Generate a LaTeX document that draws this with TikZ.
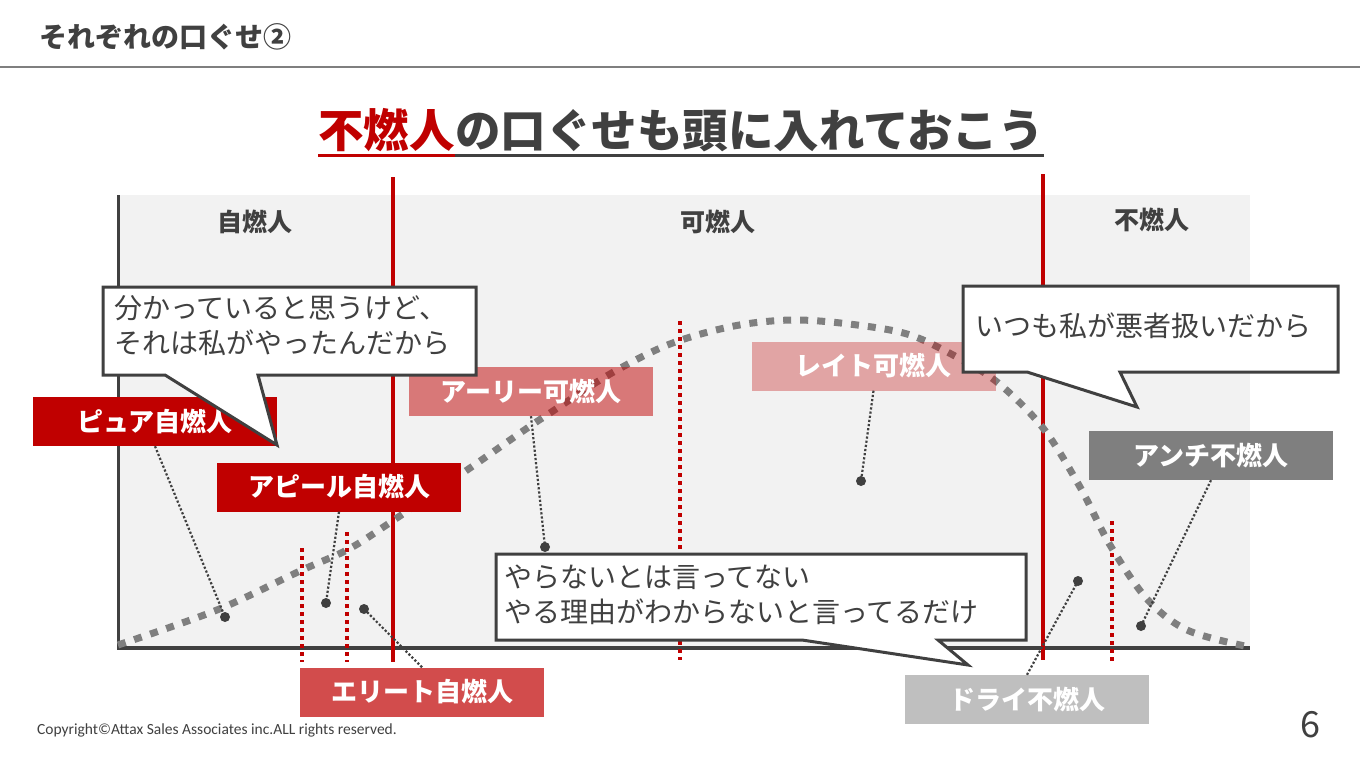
\documentclass[tikz,border=0pt]{standalone}
\usepackage{fontspec}
\setmainfont{Noto Sans CJK JP}
\newfontfamily\cali{Carlito}
\definecolor{dk}{HTML}{404040}
\definecolor{rd}{HTML}{C00000}
\definecolor{bgc}{HTML}{F2F2F2}
\definecolor{cg}{HTML}{7F7F7F}
\definecolor{lg}{HTML}{BFBFBF}
\begin{document}
\begin{tikzpicture}[x=1pt,y=-1pt,
  lbl/.style={minimum width=244pt, minimum height=49pt, inner sep=0pt, text=white, text opacity=1,
    font=\fontsize{26}{30}\selectfont\bfseries},
  reg/.style={text=dk, inner sep=0pt, font=\fontsize{25}{28}\selectfont\bfseries},
  dotn/.style={circle, fill=dk, inner sep=0pt, minimum size=10pt},
  conn/.style={dk, line width=2.2pt, dash pattern=on 2.2pt off 2pt},
  bubble/.style={fill=white, draw=dk, line width=3pt, line join=miter},
  btext/.style={text=dk, align=left, inner sep=0pt, font=\fontsize{28}{35}\selectfont},
  redsolid/.style={rd, line width=4pt},
  reddot/.style={rd, line width=4pt, dash pattern=on 4pt off 4pt},
  curvestyle/.style={cg, line width=7pt, dash pattern=on 8pt off 9pt}]
\useasboundingbox (0,0) rectangle (1360,766);
\fill[white] (0,0) rectangle (1360,766);
% header
\node[anchor=west, text=dk, inner sep=0pt, font=\fontsize{28}{30}\selectfont\bfseries] (hdr) at (39,37) {それぞれの口ぐせ②};
\draw[cg, line width=2pt] (0,67) -- (1360,67);
% title
\node[anchor=base west, inner sep=0pt, text=rd, font=\fontsize{45.5}{50}\selectfont\bfseries] (t1) at (318,147) {不燃人};
\node[anchor=base west, inner sep=0pt, text=dk, font=\fontsize{45.5}{50}\selectfont\bfseries] (t2) at (t1.base east) {の口ぐせも頭に入れておこう};
\draw[rd, line width=3pt] ([yshift=-8pt]t1.base west) -- ([yshift=-8pt]t1.base east);
\draw[dk, line width=3pt] ([yshift=-8pt]t2.base west) -- ([yshift=-8pt]t2.base east);
% chart background
\fill[bgc] (118,195) rectangle (1250,648);
\node[reg] (r1) at (255,222) {自燃人};
\node[reg] (r2) at (718,222) {可燃人};
\node[reg] (r3) at (1152,220) {不燃人};
% axes
\draw[dk, line width=3pt] (118,195) -- (118,648);
\draw[dk, line width=4pt] (117,648) -- (1250,648);
% red lines
\draw[redsolid] (393,177) -- (393,662);
\draw[redsolid] (1043,174) -- (1043,660);
\draw[reddot] (302,548) -- (302,662);
\draw[reddot] (347,532) -- (347,662);
\draw[reddot] (680,321) -- (680,660);
\draw[reddot] (1112,521) -- (1112,661);
% curve
\draw[curvestyle] plot[smooth, tension=0.55] coordinates {
 (118,645) (217,610) (300,571) (347,550) (385,526) (470,468) (523,431) (553,411)
 (610,374) (670,344) (734,326) (792,320) (849,324) (907,334) (953,355) (997,382)
 (1043,428) (1080,487) (1110,545) (1147,599) (1187,630) (1245,646)};
% labels
\node[lbl, fill=rd] (pure) at (155,421.5) {ピュア自燃人};
\node[lbl, fill=rd] (appeal) at (339,487) {アピール自燃人};
\node[lbl, fill=rd, fill opacity=0.7] (elite) at (422,692) {エリート自燃人};
\node[lbl, fill=rd, fill opacity=0.5] (early) at (531,391.5) {アーリー可燃人};
\node[lbl, fill=rd, fill opacity=0.32] (late) at (873.5,366) {レイト可燃人};
\node[lbl, fill=cg] (anti) at (1211,455.5) {アンチ不燃人};
\node[lbl, fill=lg] (dry) at (1027,699.5) {ドライ不燃人};
% dots and connectors
\node[dotn] (d1) at (225,617) {};
\node[dotn] (d2) at (326,603) {};
\node[dotn] (d3) at (364,609) {};
\node[dotn] (d4) at (545,547) {};
\node[dotn] (d5) at (861,481) {};
\node[dotn] (d6) at (1141,626) {};
\node[dotn] (d7) at (1078,581) {};
\draw[conn] (pure.south) -- (d1.center);
\draw[conn] (appeal.south) -- (d2.center);
\draw[conn] (elite.north) -- (d3.center);
\draw[conn] (early.south) -- (d4.center);
\draw[conn] (late.south) -- (d5.center);
\draw[conn] (anti.south) -- (d6.center);
\draw[conn] (dry.north) -- (d7.center);
% bubbles
\draw[bubble] (103,287) -- (476,287) -- (476,375) -- (258,375) -- (277,445) -- (165,375) -- (103,375) -- cycle;
\node[btext, anchor=west] (b1) at (114,325.5) {分かっていると思うけど、\\それは私がやったんだから};
\draw[bubble] (963,286) -- (1338,286) -- (1338,372) -- (1120,372) -- (1137,407) -- (1027,372) -- (963,372) -- cycle;
\node[btext, anchor=west] (b2) at (975,326) {いつも私が悪者扱いだから};
\draw[bubble] (496,554) -- (1026,554) -- (1026,640) -- (938,640) -- (968,665) -- (802,640) -- (496,640) -- cycle;
\node[btext, anchor=west] (b3) at (504,594.5) {やらないとは言ってない\\やる理由がわからないと言ってるだけ};
% footer
\node[anchor=west, inner sep=0pt, text=dk, font=\cali\fontsize{15.5}{17}\selectfont] (cp) at (37,730) {Copyright©Attax Sales Associates inc.ALL rights reserved.};
\node[inner sep=0pt, text=dk, font=\fontsize{36}{40}\selectfont] (pg) at (1310,725) {6};
\end{tikzpicture}
\end{document}
